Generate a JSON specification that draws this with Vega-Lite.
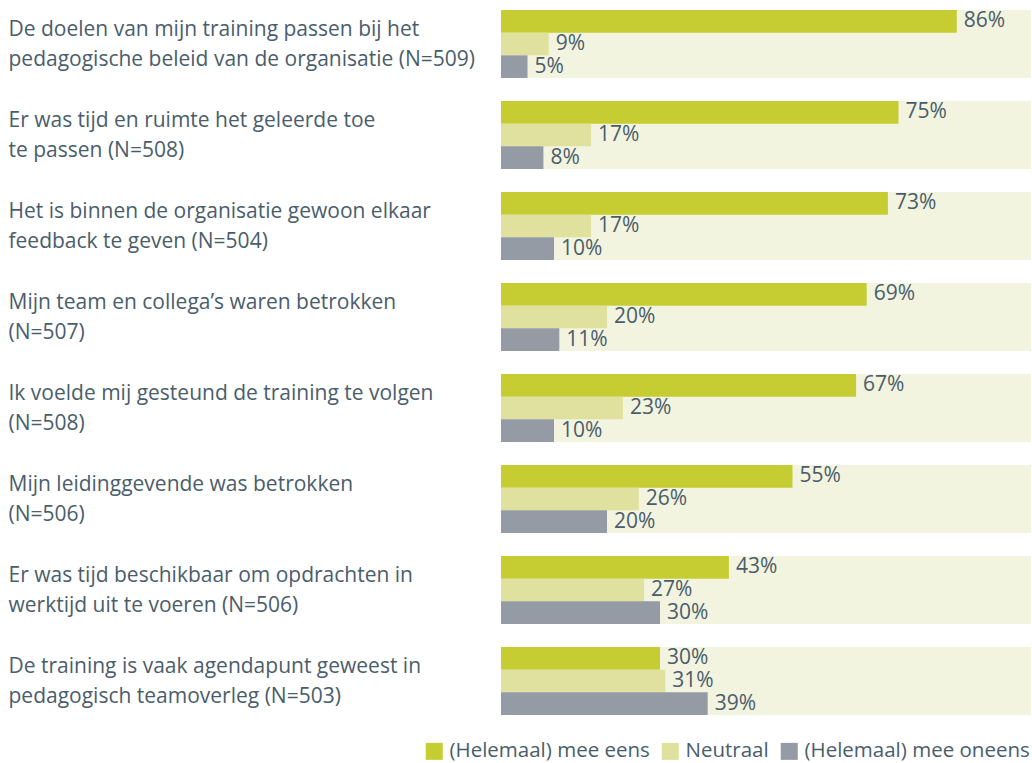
{
  "$schema": "https://vega.github.io/schema/vega-lite/v6.json",
  "width": 530,
  "height": 705,
  "autosize": {"type": "none"},
  "padding": {"left": 501, "top": 10, "right": 1, "bottom": 48},
  "background": "white",
  "config": {"view": {"stroke": null}, "font": "Open Sans"},
  "data": {"values": [
    {"q": "De doelen van mijn training passen bij het|pedagogische beleid van de organisatie (N=509)", "s": "(Helemaal) mee eens", "v": 0.86},
    {"q": "De doelen van mijn training passen bij het|pedagogische beleid van de organisatie (N=509)", "s": "Neutraal", "v": 0.09},
    {"q": "De doelen van mijn training passen bij het|pedagogische beleid van de organisatie (N=509)", "s": "(Helemaal) mee oneens", "v": 0.05},
    {"q": "Er was tijd en ruimte het geleerde toe|te passen (N=508)", "s": "(Helemaal) mee eens", "v": 0.75},
    {"q": "Er was tijd en ruimte het geleerde toe|te passen (N=508)", "s": "Neutraal", "v": 0.17},
    {"q": "Er was tijd en ruimte het geleerde toe|te passen (N=508)", "s": "(Helemaal) mee oneens", "v": 0.08},
    {"q": "Het is binnen de organisatie gewoon elkaar|feedback te geven (N=504)", "s": "(Helemaal) mee eens", "v": 0.73},
    {"q": "Het is binnen de organisatie gewoon elkaar|feedback te geven (N=504)", "s": "Neutraal", "v": 0.17},
    {"q": "Het is binnen de organisatie gewoon elkaar|feedback te geven (N=504)", "s": "(Helemaal) mee oneens", "v": 0.10},
    {"q": "Mijn team en collega’s waren betrokken|(N=507)", "s": "(Helemaal) mee eens", "v": 0.69},
    {"q": "Mijn team en collega’s waren betrokken|(N=507)", "s": "Neutraal", "v": 0.20},
    {"q": "Mijn team en collega’s waren betrokken|(N=507)", "s": "(Helemaal) mee oneens", "v": 0.11},
    {"q": "Ik voelde mij gesteund de training te volgen|(N=508)", "s": "(Helemaal) mee eens", "v": 0.67},
    {"q": "Ik voelde mij gesteund de training te volgen|(N=508)", "s": "Neutraal", "v": 0.23},
    {"q": "Ik voelde mij gesteund de training te volgen|(N=508)", "s": "(Helemaal) mee oneens", "v": 0.10},
    {"q": "Mijn leidinggevende was betrokken|(N=506)", "s": "(Helemaal) mee eens", "v": 0.55},
    {"q": "Mijn leidinggevende was betrokken|(N=506)", "s": "Neutraal", "v": 0.26},
    {"q": "Mijn leidinggevende was betrokken|(N=506)", "s": "(Helemaal) mee oneens", "v": 0.20},
    {"q": "Er was tijd beschikbaar om opdrachten in|werktijd uit te voeren (N=506)", "s": "(Helemaal) mee eens", "v": 0.43},
    {"q": "Er was tijd beschikbaar om opdrachten in|werktijd uit te voeren (N=506)", "s": "Neutraal", "v": 0.27},
    {"q": "Er was tijd beschikbaar om opdrachten in|werktijd uit te voeren (N=506)", "s": "(Helemaal) mee oneens", "v": 0.30},
    {"q": "De training is vaak agendapunt geweest in|pedagogisch teamoverleg (N=503)", "s": "(Helemaal) mee eens", "v": 0.30},
    {"q": "De training is vaak agendapunt geweest in|pedagogisch teamoverleg (N=503)", "s": "Neutraal", "v": 0.31},
    {"q": "De training is vaak agendapunt geweest in|pedagogisch teamoverleg (N=503)", "s": "(Helemaal) mee oneens", "v": 0.39}
  ]},
  "encoding": {
    "y": {
      "field": "q", "type": "nominal", "sort": null,
      "scale": {"paddingInner": 0.2527, "paddingOuter": 0},
      "axis": {
        "title": null, "domain": false, "ticks": false, "tickSize": 0,
        "labelAlign": "left", "labelPadding": 493, "labelBaseline": "middle", "labelOffset": -14,
        "labelExpr": "split(datum.label, '|')", "labelLimit": 0,
        "labelFontSize": 21, "labelColor": "#4a5d6c", "labelLineHeight": 30, "labelFont": "Open Sans"
      }
    }
  },
  "layer": [
    {
      "mark": {"type": "bar", "color": "#f2f4df"},
      "encoding": {"x": {"datum": 1, "type": "quantitative", "scale": {"domain": [0, 1]}, "axis": null}}
    },
    {
      "mark": {"type": "bar"},
      "encoding": {
        "x": {"field": "v", "type": "quantitative", "scale": {"domain": [0, 1]}, "axis": null},
        "yOffset": {"field": "s", "type": "nominal", "sort": null, "scale": {"paddingInner": 0, "paddingOuter": 0}},
        "color": {
          "field": "s", "type": "nominal", "sort": null,
          "scale": {"domain": ["(Helemaal) mee eens", "Neutraal", "(Helemaal) mee oneens"], "range": ["#c5cd33", "#e0e19e", "#959ba5"]},
          "legend": {
            "title": null, "orient": "none", "direction": "horizontal",
            "legendX": -77, "legendY": 731,
            "symbolType": "square", "symbolSize": 289, "symbolStrokeWidth": 0,
            "labelFontSize": 20.5, "labelColor": "#4a5d6c", "labelFont": "Open Sans", "labelLimit": 0,
            "labelOffset": 5, "columnPadding": 10
          }
        }
      }
    },
    {
      "mark": {"type": "text", "align": "left", "baseline": "middle", "dx": 7, "fontSize": 21, "color": "#4a5d6c", "font": "Open Sans"},
      "encoding": {
        "x": {"field": "v", "type": "quantitative", "scale": {"domain": [0, 1]}, "axis": null},
        "yOffset": {"field": "s", "type": "nominal", "sort": null, "scale": {"paddingInner": 0, "paddingOuter": 0}},
        "text": {"field": "v", "type": "quantitative", "format": ".0%"}
      }
    }
  ]
}
